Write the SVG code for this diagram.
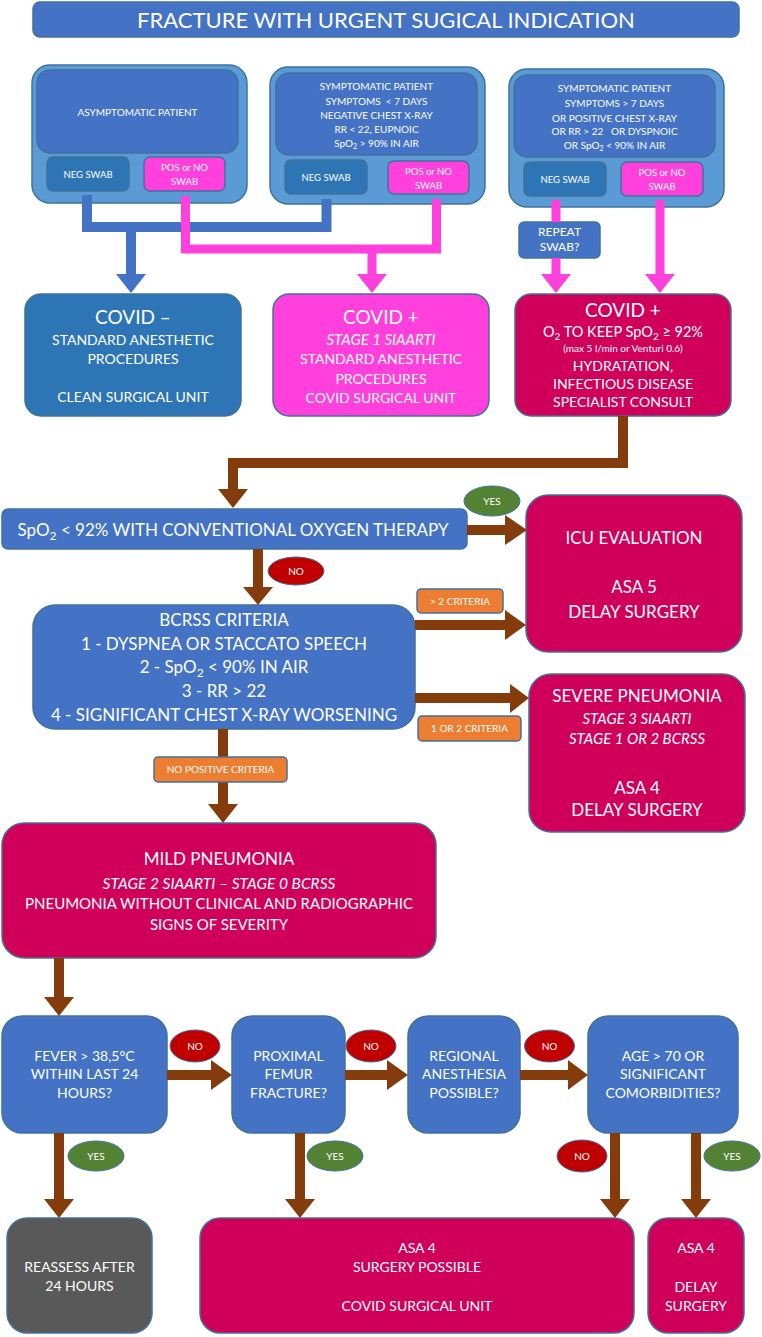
<svg xmlns="http://www.w3.org/2000/svg" width="762" height="1337" viewBox="0 0 762 1337">
<defs>
<style>
text{font-family:Lato,"Open Sans","Liberation Sans",sans-serif;fill:#fff;text-anchor:middle}
.s{stroke:#41719C;stroke-width:1.5}
.blue{fill:#4472C4}
.lb{fill:#5B9BD5}
.db{fill:#2E75B6}
.pk{fill:#FF40DD}
.cr{fill:#D0005A}
.gr{fill:#595959}
.or{fill:#ED7D31}
.yes{fill:#548235;stroke:#41719C;stroke-width:1}
.no{fill:#C00000;stroke:#41719C;stroke-width:1}
.f10{font-size:10px}
.sm{font-size:10px}
.sw{font-size:9.5px}
.f15{font-size:14px}
.f17{font-size:17px}
.f19{font-size:19px}
.it{font-style:italic}
.bl{stroke:#4472C4;stroke-width:10;fill:none}
.pl{stroke:#FF40DD;stroke-width:9;fill:none}
.br{stroke:#843C0C;stroke-width:10;fill:none}
.bh{fill:#843C0C}
</style>
</defs>

<g id="title">
<rect x="33" y="2" width="706" height="35" rx="7" class="blue s"/>
<text x="386" y="28" font-size="22">FRACTURE WITH URGENT SUGICAL INDICATION</text>
</g>

<g id="group1">
<rect x="32" y="65" width="215" height="138" rx="18" class="lb s"/>
<rect x="37" y="70" width="201" height="83" rx="13" class="blue s"/>
<text x="137.5" y="116" class="sm">ASYMPTOMATIC PATIENT</text>
<rect x="47" y="157" width="82" height="34" rx="6" class="db s"/>
<text x="88" y="178" class="sw">NEG SWAB</text>
<rect x="144" y="157" width="81" height="34" rx="6" class="pk s"/>
<text x="184.5" y="171" class="sw">POS or NO</text>
<text x="184.5" y="185" class="sw">SWAB</text>
</g>

<g id="group2">
<rect x="270" y="67" width="215" height="137" rx="18" class="lb s"/>
<rect x="276" y="73" width="201" height="82" rx="13" class="blue s"/>
<text x="376.5" y="90" class="sm">SYMPTOMATIC PATIENT</text>
<text x="376.5" y="104.5" class="sm" xml:space="preserve">SYMPTOMS  &lt; 7 DAYS</text>
<text x="376.5" y="118.5" class="sm">NEGATIVE CHEST X-RAY</text>
<text x="376.5" y="132.5" class="sm">RR &lt; 22, EUPNOIC</text>
<text x="376.5" y="147" class="sm">SpO<tspan font-size="7" dy="2">2</tspan><tspan dy="-2"> &gt; 90% IN AIR</tspan></text>
<rect x="285" y="160" width="82" height="34" rx="6" class="db s"/>
<text x="326" y="181" class="sw">NEG SWAB</text>
<rect x="388" y="161" width="81" height="33" rx="6" class="pk s"/>
<text x="428.5" y="175" class="sw">POS or NO</text>
<text x="428.5" y="189" class="sw">SWAB</text>
</g>

<g id="group3">
<rect x="509" y="69" width="215" height="138" rx="18" class="lb s"/>
<rect x="514" y="75" width="201" height="82" rx="13" class="blue s"/>
<text x="614.5" y="92" class="sm">SYMPTOMATIC PATIENT</text>
<text x="614.5" y="107" class="sm">SYMPTOMS &gt; 7 DAYS</text>
<text x="614.5" y="121.5" class="sm">OR POSITIVE CHEST X-RAY</text>
<text x="614.5" y="134.5" class="sm" xml:space="preserve">OR RR &gt; 22   OR DYSPNOIC</text>
<text x="614.5" y="149" class="sm">OR SpO<tspan font-size="7" dy="2">2</tspan><tspan dy="-2"> &lt; 90% IN AIR</tspan></text>
<rect x="524" y="162" width="82" height="34" rx="6" class="db s"/>
<text x="565" y="183" class="sw">NEG SWAB</text>
<rect x="621" y="162" width="82" height="34" rx="6" class="pk s"/>
<text x="662" y="176" class="sw">POS or NO</text>
<text x="662" y="190" class="sw">SWAB</text>
</g>

<g id="repeat-swab">
<rect x="519" y="222" width="81" height="36" rx="5" class="blue s"/>
<text x="559.5" y="236" font-size="12">REPEAT</text>
<text x="559.5" y="251" font-size="12">SWAB?</text>
</g>

<g id="covid-neg">
<rect x="25" y="294" width="216" height="122" rx="16" class="db s"/>
<text x="133" y="324" class="f19">COVID –</text>
<text x="133" y="345" class="f15">STANDARD ANESTHETIC</text>
<text x="133" y="364" class="f15">PROCEDURES</text>
<text x="133" y="402" class="f15">CLEAN SURGICAL UNIT</text>
</g>

<g id="covid-pos-1">
<rect x="273" y="294" width="216" height="122" rx="16" class="pk s"/>
<text x="381" y="324" class="f19">COVID +</text>
<text x="381" y="345" font-size="15" class="it">STAGE 1 SIAARTI</text>
<text x="381" y="364" class="f15">STANDARD ANESTHETIC</text>
<text x="381" y="384" class="f15">PROCEDURES</text>
<text x="381" y="403" class="f15">COVID SURGICAL UNIT</text>
</g>

<g id="covid-pos-2">
<rect x="515" y="294" width="216" height="122" rx="16" class="cr s"/>
<text x="623" y="317" class="f19">COVID +</text>
<text x="623" y="337" font-size="14.5">O<tspan font-size="10" dy="3">2</tspan><tspan dy="-3"> TO KEEP SpO</tspan><tspan font-size="10" dy="3">2</tspan><tspan dy="-3"> ≥ 92%</tspan></text>
<text x="623" y="351.5" font-size="10">(max 5 l/min or Venturi 0.6)</text>
<text x="623" y="371" class="f15">HYDRATATION,</text>
<text x="623" y="389" class="f15">INFECTIOUS DISEASE</text>
<text x="623" y="407" class="f15">SPECIALIST CONSULT</text>
</g>

<g id="spo2">
<rect x="2" y="509" width="465" height="40" rx="6" class="blue s"/>
<text x="233" y="536" class="f17">SpO<tspan font-size="12" dy="4">2</tspan><tspan dy="-4"> &lt; 92% WITH CONVENTIONAL OXYGEN THERAPY</tspan></text>
</g>

<g id="icu">
<rect x="526" y="495" width="216" height="157" rx="22" class="cr s"/>
<text x="634" y="544" class="f17">ICU EVALUATION</text>
<text x="634" y="593" class="f17">ASA 5</text>
<text x="634" y="618" class="f17">DELAY SURGERY</text>
</g>

<g id="bcrss">
<rect x="33" y="605" width="382" height="124" rx="22" class="blue s"/>
<text x="224" y="626" class="f17">BCRSS CRITERIA</text>
<text x="224" y="650" class="f17">1 - DYSPNEA OR STACCATO SPEECH</text>
<text x="224" y="673" class="f17">2 - SpO<tspan font-size="12" dy="4">2</tspan><tspan dy="-4"> &lt; 90% IN AIR</tspan></text>
<text x="224" y="697" class="f17">3 - RR &gt; 22</text>
<text x="224" y="721" class="f17">4 - SIGNIFICANT CHEST X-RAY WORSENING</text>
</g>

<g id="severe">
<rect x="529" y="674" width="216" height="158" rx="22" class="cr s"/>
<text x="637" y="702" class="f17">SEVERE PNEUMONIA</text>
<text x="637" y="724" font-size="15" class="it">STAGE 3 SIAARTI</text>
<text x="637" y="744" font-size="15" class="it">STAGE 1 OR 2 BCRSS</text>
<text x="637" y="794" class="f17">ASA 4</text>
<text x="637" y="816" class="f17">DELAY SURGERY</text>
</g>

<g id="mild">
<rect x="2" y="823" width="434" height="135" rx="22" class="cr s"/>
<text x="219" y="865" class="f17">MILD PNEUMONIA</text>
<text x="219" y="889" font-size="15.5" class="it">STAGE 2 SIAARTI – STAGE 0 BCRSS</text>
<text x="219" y="909" font-size="15">PNEUMONIA WITHOUT CLINICAL AND RADIOGRAPHIC</text>
<text x="219" y="930" font-size="15">SIGNS OF SEVERITY</text>
</g>

<g id="fever">
<rect x="2" y="1016" width="165" height="117" rx="20" class="blue s"/>
<text x="84.5" y="1061" class="f15">FEVER &gt; 38,5°C</text>
<text x="84.5" y="1079" class="f15">WITHIN LAST 24</text>
<text x="84.5" y="1098" class="f15">HOURS?</text>
</g>

<g id="femur">
<rect x="232" y="1016" width="113" height="117" rx="20" class="blue s"/>
<text x="288.5" y="1061" class="f15">PROXIMAL</text>
<text x="288.5" y="1079" class="f15">FEMUR</text>
<text x="288.5" y="1098" class="f15">FRACTURE?</text>
</g>

<g id="regional">
<rect x="408" y="1016" width="112" height="117" rx="20" class="blue s"/>
<text x="464" y="1061" class="f15">REGIONAL</text>
<text x="464" y="1079" class="f15">ANESTHESIA</text>
<text x="464" y="1098" class="f15">POSSIBLE?</text>
</g>

<g id="age">
<rect x="588" y="1016" width="150" height="117" rx="20" class="blue s"/>
<text x="663" y="1061" class="f15">AGE &gt; 70 OR</text>
<text x="663" y="1079" class="f15">SIGNIFICANT</text>
<text x="663" y="1098" class="f15">COMORBIDITIES?</text>
</g>

<g id="reassess">
<rect x="7" y="1218" width="145" height="115" rx="20" class="gr s"/>
<text x="79.5" y="1272" class="f15">REASSESS AFTER</text>
<text x="79.5" y="1291" class="f15">24 HOURS</text>
</g>

<g id="asa4-possible">
<rect x="200" y="1218" width="434" height="115" rx="20" class="cr s"/>
<text x="417" y="1253" class="f15">ASA 4</text>
<text x="417" y="1272" class="f15">SURGERY POSSIBLE</text>
<text x="417" y="1311" class="f15">COVID SURGICAL UNIT</text>
</g>

<g id="asa4-delay">
<rect x="648" y="1218" width="96" height="115" rx="20" class="cr s"/>
<text x="696" y="1253" class="f15">ASA 4</text>
<text x="696" y="1292" class="f15">DELAY</text>
<text x="696" y="1311" class="f15">SURGERY</text>
</g>

<g id="connectors">
<path d="M87,195 V227 H326.5 V199" class="bl"/>
<path d="M131,227 V276" class="bl"/>
<polygon points="116,274 146,274 131,293" fill="#4472C4"/>
<path d="M185.5,196 V249 H436.5 V199" class="pl"/>
<path d="M372,249 V276" class="pl"/>
<polygon points="357,274 387,274 372,293" fill="#FF40DD"/>
<path d="M556,200 V222" class="pl"/>
<path d="M556,258 V276" class="pl"/>
<polygon points="541,274 571,274 556,293" fill="#FF40DD"/>
<path d="M660,200 V276" class="pl"/>
<polygon points="645,274 675,274 660,293" fill="#FF40DD"/>

<path d="M623,416 V463 H233 V491" class="br"/>
<polygon points="218,489 248,489 233,508" class="bh"/>

<path d="M467,530 H507" class="br"/>
<polygon points="505,515 505,545 527,530" class="bh"/>
<path d="M258,549 V589" class="br"/>
<polygon points="243,587 273,587 258,605" class="bh"/>
<path d="M415,625 H507" class="br"/>
<polygon points="505,610 505,640 526,625" class="bh"/>
<path d="M415,698 H512" class="br"/>
<polygon points="510,684 510,713 529,698" class="bh"/>
<path d="M223,729 V806" class="br"/>
<polygon points="208,804 238,804 223,823" class="bh"/>
<path d="M59,958 V999" class="br"/>
<polygon points="44,997 74,997 59,1016" class="bh"/>
<path d="M167,1075 H213" class="br"/>
<polygon points="211,1060 211,1090 232,1075" class="bh"/>
<path d="M345,1075 H389" class="br"/>
<polygon points="387,1060 387,1090 408,1075" class="bh"/>
<path d="M520,1075 H570" class="br"/>
<polygon points="568,1060 568,1090 588,1075" class="bh"/>
<path d="M59,1133 V1201" class="br"/>
<polygon points="44,1199 74,1199 59,1218" class="bh"/>
<path d="M300,1133 V1201" class="br"/>
<polygon points="285,1199 315,1199 300,1218" class="bh"/>
<path d="M615,1133 V1201" class="br"/>
<polygon points="600,1199 630,1199 615,1218" class="bh"/>
<path d="M696,1133 V1201" class="br"/>
<polygon points="681,1199 711,1199 696,1218" class="bh"/>

<g id="labels">
<ellipse cx="492" cy="501" rx="28" ry="15" class="yes"/>
<text x="492" y="505" class="f10">YES</text>
<ellipse cx="296" cy="571" rx="28" ry="14" class="no"/>
<text x="296" y="575" class="f10">NO</text>
<rect x="417" y="589" width="86" height="24" rx="4" class="or s"/>
<text x="460" y="605" class="f10">&gt; 2 CRITERIA</text>
<rect x="418" y="716" width="103" height="25" rx="4" class="or s"/>
<text x="469.5" y="732" class="f10">1 OR 2 CRITERIA</text>
<rect x="154" y="757" width="133" height="25" rx="4" class="or s"/>
<text x="220.5" y="773" class="f10">NO POSITIVE CRITERIA</text>
<ellipse cx="195" cy="1046" rx="25" ry="16" class="no"/>
<text x="195" y="1050" class="f10">NO</text>
<ellipse cx="371" cy="1046" rx="25" ry="16" class="no"/>
<text x="371" y="1050" class="f10">NO</text>
<ellipse cx="549.5" cy="1046" rx="25" ry="16" class="no"/>
<text x="549.5" y="1050" class="f10">NO</text>
<ellipse cx="96" cy="1156" rx="28" ry="15" class="yes"/>
<text x="96" y="1160" class="f10">YES</text>
<ellipse cx="335" cy="1156" rx="28" ry="15" class="yes"/>
<text x="335" y="1160" class="f10">YES</text>
<ellipse cx="582" cy="1156" rx="25" ry="16" class="no"/>
<text x="582" y="1160" class="f10">NO</text>
<ellipse cx="732" cy="1156" rx="28" ry="15" class="yes"/>
<text x="732" y="1160" class="f10">YES</text>
</g>
</g>
</svg>
